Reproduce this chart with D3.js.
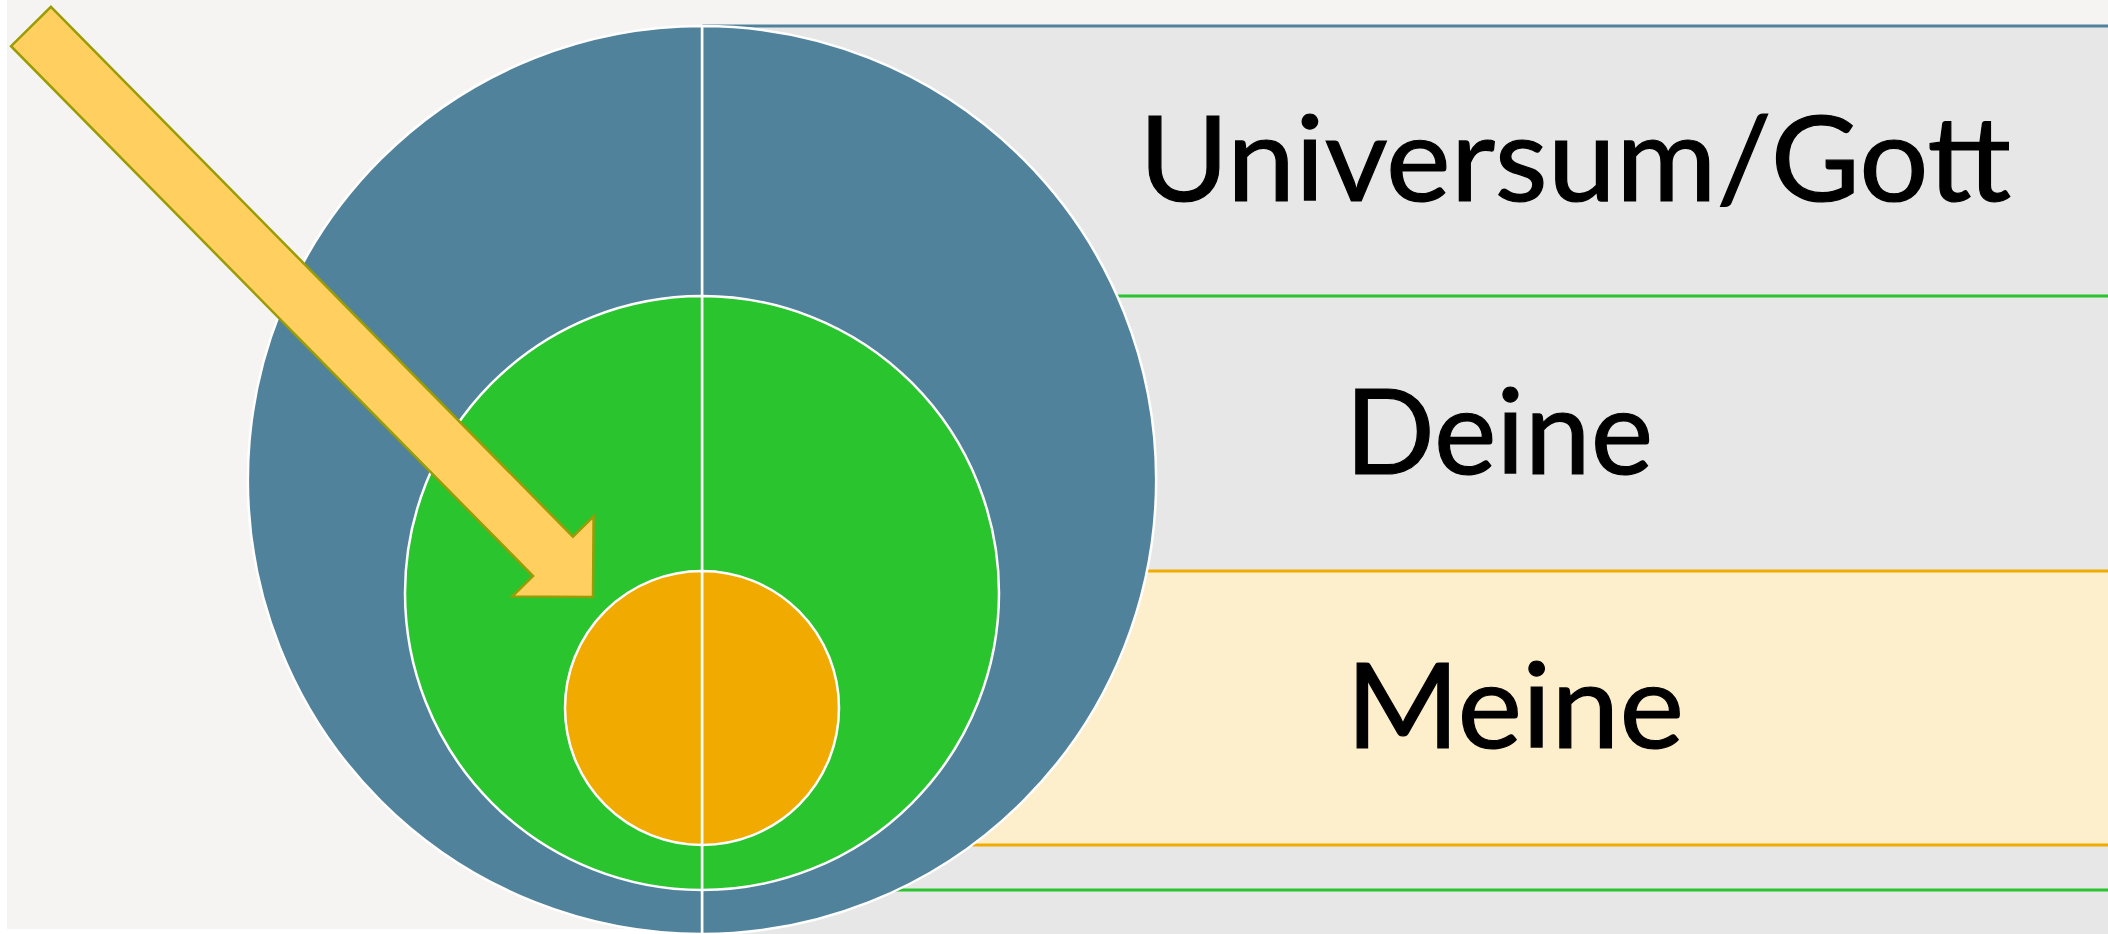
<!DOCTYPE html>
<html>
<head>
<meta charset="utf-8">
<script src="https://cdn.jsdelivr.net/npm/d3@7"></script>
<style>
  body { margin: 0; background: #fff; }
  svg { display: block; }
</style>
</head>
<body>
<svg id="main"></svg>
<script>
// levels of the diagram, outermost first
var labels = ["Universum/Gott", "Deine", "Meine"];
var colors = ["#51829b", "#29c42e", "#f1ab00"];
var bandFill = ["#e7e7e7", "#e7e7e7", "#fdeecc"];
// vertical extent of every circle in diagram units (0 = top of the outer circle)
var ringTop = [0, 270, 545];
var ringBottom = [908, 864, 819];

var W = 2108, H = 934;
var cx = 702;

var svg = d3.select("#main").attr("width", W).attr("height", H);

var y = d3.scaleLinear().domain([0, 908]).range([26, 934]);

// background
svg.append("rect").attr("x", 7).attr("y", 0)
  .attr("width", W - 7).attr("height", 929).attr("fill", "#f5f4f2");
svg.append("rect").attr("x", cx).attr("y", 25)
  .attr("width", W - cx).attr("height", H - 25).attr("fill", "#e7e7e7");

// bands to the right of the circles
var levels = labels.map(function(l, i) {
  return { label: l, color: colors[i], fill: bandFill[i],
           top: y(ringTop[i]), bottom: y(ringBottom[i]) };
});

svg.selectAll("rect.band").data(levels).enter().append("rect")
  .attr("class", "band")
  .attr("x", cx).attr("y", function(d) { return d.top; })
  .attr("width", W - cx)
  .attr("height", function(d) { return d.bottom - d.top; })
  .attr("fill", function(d) { return d.fill; });

levels.forEach(function(d, i) {
  [d.top, d.bottom].forEach(function(v, j) {
    if (i == 0 && j == 1) return;
    svg.append("line")
      .attr("x1", cx).attr("x2", W)
      .attr("y1", v).attr("y2", v)
      .attr("stroke", d.color).attr("stroke-width", 3);
  });
});

// circles, each drawn as two halves
var arc = d3.arc().innerRadius(0);
levels.forEach(function(d) {
  var r = (d.bottom - d.top) / 2;
  var cy = d.top + r;
  var g = svg.append("g").attr("transform", "translate(" + cx + "," + cy + ")");
  [[0, Math.PI], [Math.PI, 2 * Math.PI]].forEach(function(a) {
    g.append("path")
      .attr("d", arc({ outerRadius: r, startAngle: a[0], endAngle: a[1] }))
      .attr("fill", d.color)
      .attr("stroke", "#fff")
      .attr("stroke-width", 2.5);
  });
});

// labels
var labelX = [1139, 1345, 1346];
var labelW = [872, 308, 338];
svg.selectAll("text.lbl").data(levels).enter().append("text")
  .attr("class", "lbl")
  .attr("x", function(d, i) { return labelX[i]; })
  .attr("y", function(d, i) {
    var next = i < levels.length - 1 ? levels[i + 1].top : d.bottom;
    return (d.top + next) / 2 + 40;
  })
  .attr("textLength", function(d, i) { return labelW[i]; })
  .attr("lengthAdjust", "spacingAndGlyphs")
  .attr("font-family", "Lato, 'Open Sans', sans-serif")
  .attr("font-size", 118)
  .attr("fill", "#000")
  .attr("stroke", "#000")
  .attr("stroke-width", 1.2)
  .text(function(d) { return d.label; });

// arrow pointing into the inner circle
function arrowPath(x0, y0, x1, y1, shaftHalf, headHalf, headLen) {
  var dx = x1 - x0, dy = y1 - y0;
  var len = Math.sqrt(dx * dx + dy * dy);
  var ux = dx / len, uy = dy / len, vx = -uy, vy = ux;
  function pt(u, v) { return [x0 + ux * u + vx * v, y0 + uy * u + vy * v]; }
  var b = len - headLen;
  var pts = [pt(0, -shaftHalf), pt(b, -shaftHalf), pt(b, -headHalf), pt(len, 0),
             pt(b, headHalf), pt(b, shaftHalf), pt(0, shaftHalf)];
  return d3.line()(pts) + "Z";
}

svg.append("path")
  .attr("d", arrowPath(31, 26.5, 593, 597, 28, 57, 57))
  .attr("fill", "#ffd05f")
  .attr("stroke", "#9a9c05")
  .attr("stroke-width", 2.5)
  .attr("stroke-linejoin", "miter");
</script>
</body>
</html>
